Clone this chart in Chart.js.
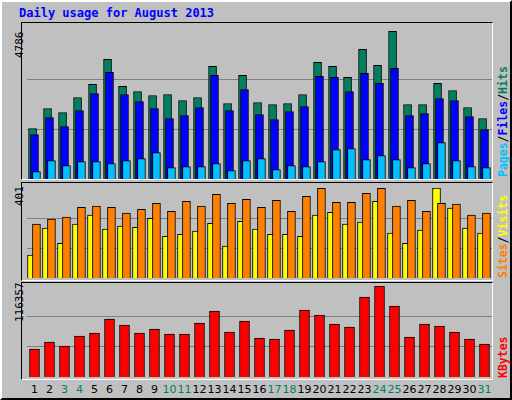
<!DOCTYPE html>
<html><head><meta charset="utf-8">
<script src="https://cdn.jsdelivr.net/npm/chart.js@4"></script>
<style>
body{margin:0;background:#fff}
#wrap{position:absolute;left:0;top:0;width:508px;height:396px;background:#c0c0c0;border:2px solid;border-color:#fff #000 #000 #fff}
.panel{position:absolute;left:19px;width:470px;border:1px solid;border-color:#000 #fff #fff #000;background:#c0c0c0}
canvas{position:absolute}
.t{position:absolute;font:bold 12px "DejaVu Sans Mono",monospace;white-space:nowrap}
.r{transform:rotate(-90deg);transform-origin:0 0;font-size:11.5px}
.l{transform:rotate(-90deg);transform-origin:0 0;font:11px "DejaVu Sans Mono",monospace;color:#000}
#days span{position:absolute;top:381px;font:11px "DejaVu Sans",sans-serif;transform:translateX(-50%)}
</style></head><body>
<div id="wrap">
<div class="t" style="left:17px;top:4px;color:#0000ff">Daily usage for August 2013</div>
<div class="panel" style="top:20px;height:156px"></div>
<div class="panel" style="top:180px;height:97px"></div>
<div class="panel" style="top:280px;height:96px"></div>
<canvas id="c1" style="left:25px;top:27px;width:465px;height:150px"></canvas>
<canvas id="c2" style="left:25px;top:186px;width:465px;height:90px"></canvas>
<canvas id="c3" style="left:25px;top:284px;width:465px;height:91px"></canvas>
<div class="t l" style="left:11px;top:56px">4786</div>
<div class="t l" style="left:11px;top:204px">401</div>
<div class="t l" style="left:11px;top:320px">116357</div>
<div class="t r" style="left:494px;top:175px"><span style="color:#00c0ff">Pages</span>/<span style="color:#0000ff">Files</span>/<span style="color:#008060">Hits</span></div>
<div class="t r" style="left:494px;top:276px"><span style="color:#ff8000">Sites</span>/<span style="color:#ffff00">Visits</span></div>
<div class="t r" style="left:494px;top:376px;color:#ff0000">KBytes</div>
<div id="days"></div>
</div>
<script>
const days = Array.from({length: 31}, (_, i) => i + 1);
const weekend = [3, 4, 10, 11, 17, 18, 24, 25, 31];
const hits = [1610,2249,2121,2601,3017,3816,2953,2793,2665,2697,2505,2601,3592,2409,3304,2441,2377,2409,2697,3720,3592,3240,4136,3624,4711,2377,2377,3049,2825,2281,1929];
const files = [1418,1961,1673,2185,2729,3400,2697,2473,2249,1929,2025,2281,3304,2185,2857,2057,1897,2153,2313,3272,3240,2793,3368,3049,3528,2025,2089,2569,2505,1993,1578];
const pages = [234,586,426,554,554,490,586,650,842,362,394,394,490,266,586,650,298,426,394,554,938,970,618,746,618,362,490,1162,586,394,362];
const visits = [240,262,271,315,320,315,289,306,333,297,342,320,373,333,351,315,346,297,364,400,337,337,377,400,320,346,297,333,329,280,289];
const sites = [102,222,155,240,280,218,231,226,266,186,195,209,244,142,253,218,195,195,186,280,293,240,249,342,200,155,213,401,311,222,200];
const kbytes = [35784,44730,39618,52398,56232,74124,66456,56232,61344,54954,54954,69012,84348,57510,71568,49842,48564,60066,85626,79236,67734,63900,102240,116298,90738,51120,67734,65178,57510,48564,42174];

const dayBox = document.getElementById("days");
days.forEach(d => {
  let s = document.createElement("span");
  s.textContent = d;
  s.style.left = (25 + (d - 0.5) * 465 / 31) + "px";
  s.style.color = weekend.includes(d) ? "#008060" : "#000";
  dayBox.appendChild(s);
});

function ds(values, shift, color, width, order) {
  return {
    data: values.map((v, i) => ({x: days[i] + shift, y: v})),
    backgroundColor: color, borderColor: "#000", borderWidth: 1,
    barThickness: width, order: order, grouped: false
  };
}

function makeChart(id, datasets, max) {
  new Chart(document.getElementById(id), {
    type: "bar",
    data: {datasets: datasets},
    options: {
      responsive: false, animation: false,
      plugins: {legend: {display: false}, tooltip: {enabled: false}},
      layout: {padding: 0},
      scales: {
        x: {type: "linear", min: 0.5, max: 31.5, offset: false, display: false},
        y: {
          min: 0, max: max,
          afterBuildTicks: ax => { ax.ticks = [{value: max / 3}, {value: max * 2 / 3}]; },
          ticks: {display: false},
          grid: {color: "#808080", drawTicks: false},
          border: {display: false}
        }
      }
    }
  });
}

["c1", "c2", "c3"].forEach(id => {
  let c = document.getElementById(id);
  c.width = parseInt(c.style.width); c.height = parseInt(c.style.height);
});

makeChart("c1", [
  ds(hits, -0.13, "#008060", 8, 3),
  ds(files, 0, "#0000ff", 8, 2),
  ds(pages, 0.13, "#00c0ff", 8, 1)
], 4786);
makeChart("c2", [
  ds(sites, -0.2, "#ffff00", 8, 2),
  ds(visits, 0.13, "#ff8000", 8, 1)
], 401);
makeChart("c3", [ds(kbytes, 0, "#ff0000", 10, 1)], 116357);
</script>
</body></html>
